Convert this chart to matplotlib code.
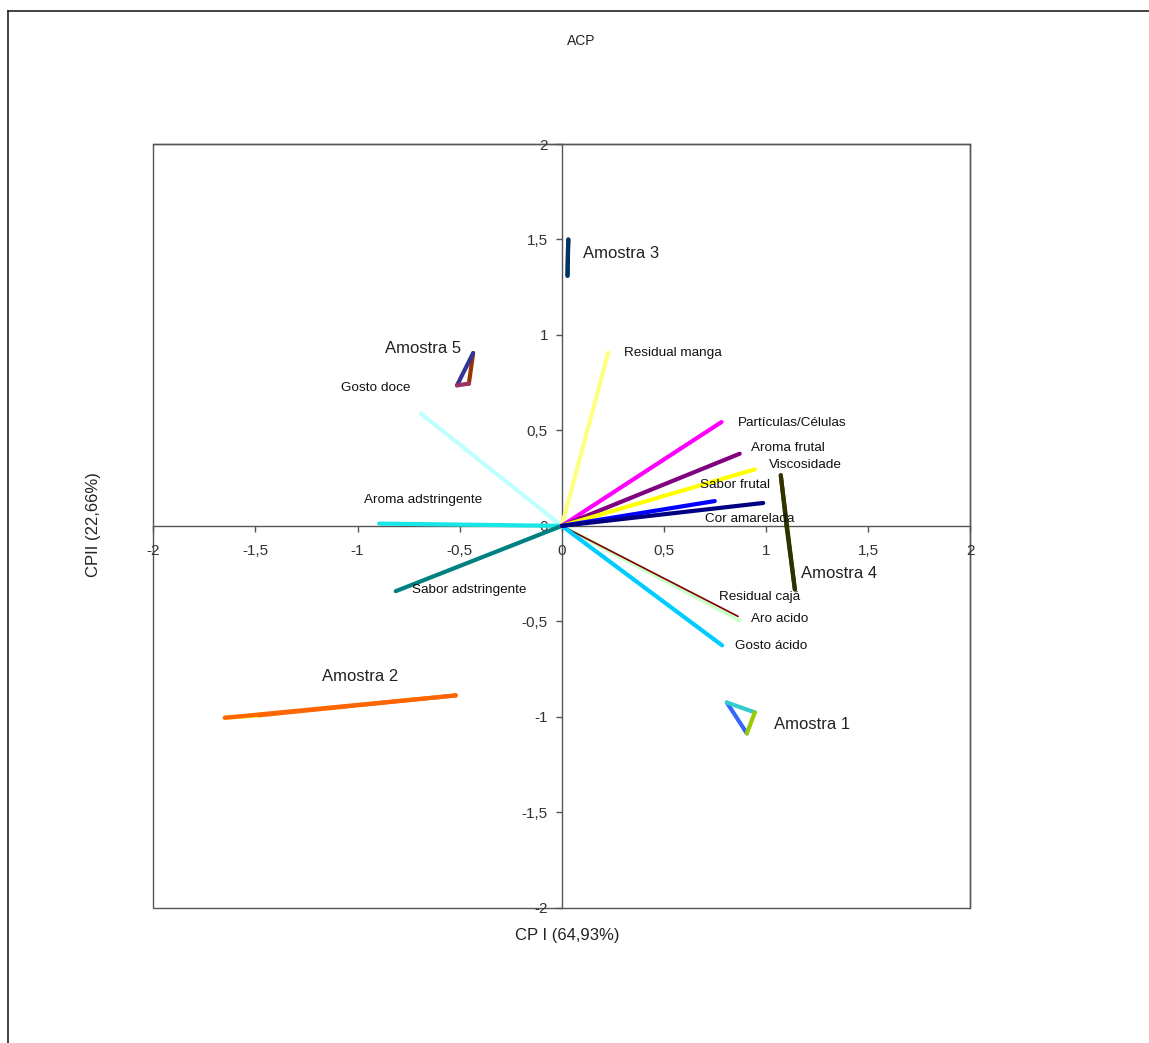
import matplotlib
matplotlib.use('Agg')
import matplotlib.pyplot as plt
from matplotlib.lines import Line2D
from matplotlib.ticker import FuncFormatter

plt.rcParams['font.family'] = ['Liberation Sans', 'DejaVu Sans']

# loadings of the attributes (end of each vector)
var_names = ['Residual manga', 'Partículas/Células', 'Aroma frutal', 'Viscosidade',
             'Sabor frutal', 'Cor amarelada', 'Residual cajá', 'Aro acido',
             'Gosto ácido', 'Gosto doce', 'Aroma adstringente', 'Sabor adstringente']
var_x = [0.227, 0.782, 0.871, 0.945, 0.749, 0.986, 0.863, 0.871, 0.785, -0.690, -0.894, -0.813]
var_y = [0.907, 0.544, 0.378, 0.296, 0.130, 0.120, -0.474, -0.495, -0.626, 0.588, 0.012, -0.342]
var_colors = ['#FFFF80', '#FF00FF', '#800080', '#FFFF00', '#0000FF', '#000080',
              '#800000', '#CCFFCC', '#00CCFF', '#BFFFFF', '#19E6E6', '#008080']
var_lw = [3, 3, 3, 3, 3, 3, 1.2, 3, 3, 3, 3, 3]
# text anchor (left, middle) of each attribute label
var_lab_x = [0.304, 0.860, 0.925, 1.015, 0.676, 0.700, 0.770, 0.925, 0.847, -1.079, -0.968, -0.733]
var_lab_y = [0.904, 0.539, 0.408, 0.317, 0.216, 0.038, -0.373, -0.486, -0.630, 0.724, 0.137, -0.338]
# draw order (later = on top)
var_order = [9, 10, 11, 0, 7, 6, 8, 1, 2, 3, 4, 5]

# samples: three replicate scores joined as a triangle
sample_names = ['Amostra 1', 'Amostra 2', 'Amostra 3', 'Amostra 4', 'Amostra 5']
sample_x = [[0.808, 0.945, 0.906],
            [-1.650, -0.519, -1.480],
            [0.032, 0.028, 0.030],
            [1.072, 1.141, 1.100],
            [-0.434, -0.513, -0.455]]
sample_y = [[-0.925, -0.977, -1.087],
            [-1.005, -0.888, -0.992],
            [1.500, 1.310, 1.450],
            [0.265, -0.333, 0.000],
            [0.905, 0.736, 0.745]]
# colours of edges 0-1, 1-2, 2-0
sample_colors = [['#33CCCC', '#99CC00', '#3366FF'],
                 ['#FF6600', '#FF6600', '#FFCC00'],
                 ['#003366', '#003366', '#003366'],
                 ['#333300', '#2B3300', '#333300'],
                 ['#333399', '#993366', '#993300']]
sample_lab_x = [1.038, -1.174, 0.103, 1.170, -0.867]
sample_lab_y = [-1.041, -0.787, 1.427, -0.247, 0.928]

ticks = [-2, -1.5, -1, -0.5, 0, 0.5, 1, 1.5, 2]

fig = plt.figure(figsize=(11.49, 10.43), dpi=100)
ax = fig.add_axes([0.1334, 0.1297, 0.7111, 0.7322])

for i in var_order:
    ax.plot([0, var_x[i]], [0, var_y[i]], color=var_colors[i], lw=var_lw[i],
            solid_capstyle='round', zorder=3)
    ax.text(var_lab_x[i], var_lab_y[i], var_names[i], fontsize=9.7, color='#111111',
            ha='left', va='center', zorder=5)

for k in range(len(sample_names)):
    xs = sample_x[k]
    ys = sample_y[k]
    for e in [2, 0, 1]:
        a, b = e, (e + 1) % 3
        ax.plot([xs[a], xs[b]], [ys[a], ys[b]], color=sample_colors[k][e], lw=3,
                solid_capstyle='round', zorder=4)
    ax.text(sample_lab_x[k], sample_lab_y[k], sample_names[k], fontsize=12,
            color='#222222', ha='left', va='center', zorder=5)

ax.set_xlim(-2, 2)
ax.set_ylim(-2, 2)
ax.set_xticks(ticks)
ax.set_yticks(ticks)
fmt = FuncFormatter(lambda v, p: ('%g' % v).replace('.', ','))
ax.xaxis.set_major_formatter(fmt)
ax.yaxis.set_major_formatter(fmt)

ax.spines['left'].set_position(('data', 0))
ax.spines['bottom'].set_position(('data', 0))
for s in ['left', 'bottom', 'top', 'right']:
    ax.spines[s].set_color('#555555')
    ax.spines[s].set_linewidth(1)
    ax.spines[s].set_zorder(1)
ax.add_patch(plt.Rectangle((0, 0), 1, 1, transform=ax.transAxes, fill=False,
                           edgecolor='#555555', lw=1, clip_on=False, zorder=1))
ax.tick_params(direction='out', length=4, width=1, color='#555555',
               labelsize=11, labelcolor='#333333')
ax.tick_params(axis='x', pad=9)
ax.tick_params(axis='y', pad=6)

fig.text(0.5057, 0.9607, 'ACP', fontsize=10, ha='center', va='center', color='#222222')
fig.text(0.4935, 0.1035, 'CP I (64,93%)', fontsize=12, ha='center', va='center',
         color='#222222')
fig.text(0.081, 0.4966, 'CPII (22,66%)', fontsize=12, ha='center', va='center',
         rotation=90, color='#222222')

# outer chart-area frame (top and left visible)
fig.add_artist(Line2D([0.007, 1.0], [0.9895, 0.9895], color='#222222', lw=1.2))
fig.add_artist(Line2D([0.007, 0.007], [0.9895, 0.0], color='#222222', lw=1.2))

fig.savefig('out.png', dpi=100, facecolor='white')
